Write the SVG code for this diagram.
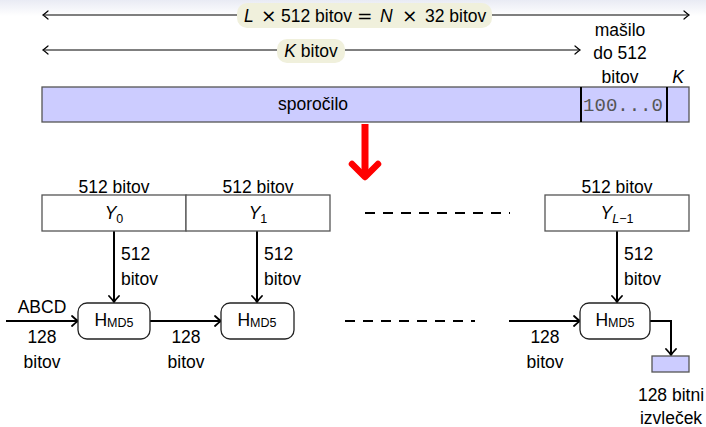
<svg xmlns="http://www.w3.org/2000/svg" width="706" height="427" viewBox="0 0 706 427">
  <defs>
    <linearGradient id="topfade" x1="0" y1="0" x2="0" y2="1">
      <stop offset="0" stop-color="#e9ebf4"/>
      <stop offset="1" stop-color="#ffffff"/>
    </linearGradient>
    <marker id="tip" viewBox="-6 -5 8 10" markerWidth="8" markerHeight="10" refX="0" refY="0" orient="auto-start-reverse" markerUnits="userSpaceOnUse">
      <path d="M-5,-4 Q-1.5,-1 0,0 Q-1.5,1 -5,4" fill="none" stroke="#000" stroke-width="1.2" stroke-linecap="round"/>
    </marker>
    <marker id="tipb" viewBox="-8 -6 10 12" markerWidth="10" markerHeight="12" refX="0" refY="0" orient="auto" markerUnits="userSpaceOnUse">
      <path d="M-6,-5 Q-2,-1.2 0,0 Q-2,1.2 -6,5" fill="none" stroke="#000" stroke-width="1.8" stroke-linecap="round"/>
    </marker>
  </defs>
  <style>
    text { font-family: "Liberation Sans", Arial, sans-serif; font-size: 17.5px; fill: #000; }
    .c { text-anchor: middle; }
    .it { font-style: italic; }
    .op { font-family: "DejaVu Sans", sans-serif; font-size: 18.5px; }
    .sub { font-size: 12.5px; }
    .mono { font-family: "Liberation Mono", "Courier New", monospace; font-size: 19px; fill: #555; }
    .box { fill: #fff; stroke: #555; stroke-width: 1.3; }
    .msg { fill: #ccccff; stroke: #555; stroke-width: 1.3; }
    .hbox { fill: #fff; stroke: #222; stroke-width: 1.3; }
    .tag { fill: #f0f0dc; }
    .thin { stroke: #000; stroke-width: 1; fill: none; }
    .thick { stroke: #000; stroke-width: 2; fill: none; }
    .dash { stroke: #000; stroke-width: 2; stroke-dasharray: 10 8; fill: none; }
  </style>

  <rect x="0" y="0" width="706" height="16" fill="url(#topfade)"/>

  <g id="connectors">
    <!-- span arrows above the message -->
    <line class="thin" x1="43" y1="15" x2="689" y2="15" marker-start="url(#tip)" marker-end="url(#tip)"/>
    <line class="thin" x1="43" y1="50" x2="580" y2="50" marker-start="url(#tip)" marker-end="url(#tip)"/>
    <!-- split into blocks -->
    <line x1="365" y1="124" x2="365" y2="176" stroke="#ff0000" stroke-width="7"/>
    <path d="M352,164 L365,177 L378,164" fill="none" stroke="#ff0000" stroke-width="6.5" stroke-linecap="round" stroke-linejoin="round"/>
    <!-- block inputs -->
    <line class="thick" x1="114" y1="231" x2="114" y2="302" marker-end="url(#tipb)"/>
    <line class="thick" x1="257" y1="231" x2="257" y2="302" marker-end="url(#tipb)"/>
    <line class="thick" x1="617" y1="231" x2="617" y2="302" marker-end="url(#tipb)"/>
    <!-- chaining values -->
    <line class="thick" x1="6" y1="321" x2="78" y2="321" marker-end="url(#tipb)"/>
    <line class="thick" x1="150" y1="321" x2="221" y2="321" marker-end="url(#tipb)"/>
    <line class="thick" x1="509" y1="321" x2="580" y2="321" marker-end="url(#tipb)"/>
    <polyline class="thick" points="650,321 671,321 671,355" marker-end="url(#tipb)"/>
    <!-- omitted blocks -->
    <line class="dash" x1="365" y1="213" x2="510" y2="213"/>
    <line class="dash" x1="345" y1="321" x2="475" y2="321"/>
  </g>

  <g id="span-total">
    <rect class="tag" x="237" y="3" width="255" height="25" rx="10"/>
    <text y="22"><tspan x="244" class="it">L</tspan><tspan x="261" class="op">×</tspan><tspan x="281">512 bitov</tspan><tspan x="357" class="op">=</tspan><tspan x="380" class="it">N</tspan><tspan x="402" class="op">×</tspan><tspan x="425">32 bitov</tspan></text>
  </g>
  <g id="span-k">
    <rect class="tag" x="277" y="39" width="68" height="24" rx="10"/>
    <text x="311" y="57" class="c"><tspan class="it">K</tspan> bitov</text>
  </g>
  <g id="padding-label">
    <text x="620" y="36" class="c">mašilo</text>
    <text x="620" y="59" class="c">do 512</text>
    <text x="620" y="83" class="c">bitov</text>
    <text x="678" y="83" class="c it">K</text>
  </g>

  <g id="message">
    <rect class="msg" x="42" y="87" width="647" height="35"/>
    <line x1="581" y1="87" x2="581" y2="122" stroke="#000" stroke-width="2"/>
    <line x1="667" y1="87" x2="667" y2="122" stroke="#000" stroke-width="2"/>
    <text x="313" y="110" class="c">sporočilo</text>
    <text x="623" y="111" class="mono c">100...0</text>
  </g>

  <g id="block-y0">
    <text x="114" y="193" class="c">512 bitov</text>
    <rect class="box" x="42" y="195" width="144" height="36"/>
    <text x="114" y="219" class="c"><tspan class="it">Y</tspan><tspan class="sub" dy="4">0</tspan></text>
  </g>
  <g id="block-y1">
    <text x="258" y="193" class="c">512 bitov</text>
    <rect class="box" x="186" y="195" width="144" height="36"/>
    <text x="258" y="219" class="c"><tspan class="it">Y</tspan><tspan class="sub" dy="4">1</tspan></text>
  </g>
  <g id="block-yl">
    <text x="617" y="193" class="c">512 bitov</text>
    <rect class="box" x="545" y="195" width="144" height="36"/>
    <text x="617" y="219" class="c"><tspan class="it">Y</tspan><tspan class="sub it" dy="4">L</tspan><tspan class="sub">−1</tspan></text>
  </g>

  <g id="block-labels">
    <text x="121" y="260">512</text>
    <text x="121" y="285">bitov</text>
    <text x="264" y="260">512</text>
    <text x="264" y="285">bitov</text>
    <text x="624" y="260">512</text>
    <text x="624" y="285">bitov</text>
  </g>

  <g id="h-1">
    <rect class="hbox" x="78" y="303" width="72" height="36" rx="9"/>
    <text x="114" y="326" class="c">H<tspan class="sub" dy="1">MD5</tspan></text>
  </g>
  <g id="h-2">
    <rect class="hbox" x="221" y="303" width="73" height="36" rx="9"/>
    <text x="257" y="326" class="c">H<tspan class="sub" dy="1">MD5</tspan></text>
  </g>
  <g id="h-l">
    <rect class="hbox" x="580" y="303" width="70" height="36" rx="9"/>
    <text x="615" y="326" class="c">H<tspan class="sub" dy="1">MD5</tspan></text>
  </g>

  <g id="chain-labels">
    <text x="42" y="313" class="c">ABCD</text>
    <text x="42" y="343" class="c">128</text>
    <text x="42" y="368" class="c">bitov</text>
    <text x="186" y="343" class="c">128</text>
    <text x="186" y="368" class="c">bitov</text>
    <text x="545" y="343" class="c">128</text>
    <text x="545" y="368" class="c">bitov</text>
  </g>

  <g id="digest">
    <rect class="msg" x="652" y="356" width="37" height="16"/>
    <text x="671" y="401" class="c">128 bitni</text>
    <text x="671" y="424" class="c">izvleček</text>
  </g>
</svg>
